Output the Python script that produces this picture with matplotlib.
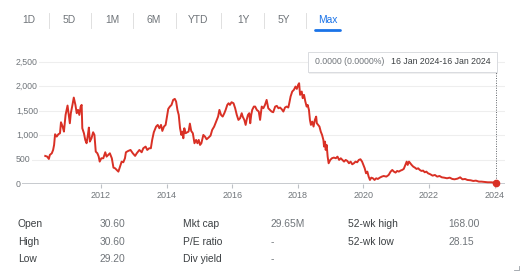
import matplotlib
matplotlib.use("Agg")
from matplotlib import pyplot as plt
from matplotlib.patches import FancyBboxPatch

plt.rcParams["font.family"] = ["Liberation Sans", "DejaVu Sans"]

# price history, decimal years
years = [
    2010.30, 2010.36, 2010.41, 2010.44, 2010.50, 2010.54, 2010.57, 2010.60, 2010.65, 2010.70,
    2010.75, 2010.78, 2010.83, 2010.87, 2010.92, 2010.98, 2011.02, 2011.05, 2011.08, 2011.13,
    2011.17, 2011.22, 2011.26, 2011.30, 2011.34, 2011.38, 2011.41, 2011.43, 2011.48, 2011.52,
    2011.56, 2011.60, 2011.63, 2011.66, 2011.71, 2011.76, 2011.80, 2011.84, 2011.89, 2011.93,
    2011.96, 2012.01, 2012.07, 2012.13, 2012.17, 2012.22, 2012.27, 2012.33, 2012.38, 2012.43,
    2012.48, 2012.53, 2012.58, 2012.63, 2012.68, 2012.73, 2012.76, 2012.83, 2012.90, 2012.97,
    2013.04, 2013.09, 2013.17, 2013.24, 2013.29, 2013.36, 2013.41, 2013.47, 2013.52, 2013.56,
    2013.61, 2013.68, 2013.73, 2013.78, 2013.83, 2013.87, 2013.92, 2013.97, 2014.01, 2014.05,
    2014.10, 2014.15, 2014.20, 2014.25, 2014.29, 2014.33, 2014.37, 2014.41, 2014.45, 2014.48,
    2014.51, 2014.54, 2014.58, 2014.63, 2014.67, 2014.71, 2014.75, 2014.80, 2014.85, 2014.90,
    2014.94, 2014.98, 2015.02, 2015.06, 2015.12, 2015.17, 2015.22, 2015.28, 2015.34, 2015.39,
    2015.45, 2015.51, 2015.57, 2015.61, 2015.66, 2015.71, 2015.76, 2015.80, 2015.85, 2015.89,
    2015.93, 2015.98, 2016.04, 2016.09, 2016.14, 2016.19, 2016.24, 2016.29, 2016.32, 2016.37,
    2016.41, 2016.44, 2016.48, 2016.52, 2016.55, 2016.58, 2016.61, 2016.66, 2016.70, 2016.75,
    2016.81, 2016.85, 2016.90, 2016.95, 2017.00, 2017.05, 2017.10, 2017.15, 2017.20, 2017.25,
    2017.31, 2017.36, 2017.41, 2017.46, 2017.51, 2017.56, 2017.61, 2017.66, 2017.71, 2017.74,
    2017.78, 2017.83, 2017.88, 2017.93, 2017.97, 2018.01, 2018.04, 2018.07, 2018.12, 2018.15,
    2018.19, 2018.23, 2018.27, 2018.30, 2018.34, 2018.37, 2018.40, 2018.44, 2018.48, 2018.52,
    2018.56, 2018.58, 2018.62, 2018.66, 2018.70, 2018.74, 2018.78, 2018.80, 2018.83, 2018.85,
    2018.88, 2018.91, 2018.94, 2018.99, 2019.04, 2019.10, 2019.16, 2019.21, 2019.26, 2019.31,
    2019.36, 2019.41, 2019.46, 2019.51, 2019.56, 2019.61, 2019.66, 2019.71, 2019.76, 2019.81,
    2019.86, 2019.91, 2019.96, 2020.00, 2020.04, 2020.08, 2020.12, 2020.16, 2020.20, 2020.24,
    2020.29, 2020.34, 2020.39, 2020.44, 2020.50, 2020.56, 2020.62, 2020.70, 2020.77, 2020.83,
    2020.88, 2020.93, 2020.98, 2021.03, 2021.08, 2021.13, 2021.18, 2021.23, 2021.28, 2021.32,
    2021.35, 2021.39, 2021.43, 2021.47, 2021.52, 2021.57, 2021.62, 2021.67, 2021.72, 2021.77,
    2021.82, 2021.87, 2021.92, 2021.97, 2022.04, 2022.11, 2022.18, 2022.25, 2022.32, 2022.39,
    2022.46, 2022.55, 2022.63, 2022.71, 2022.78, 2022.87, 2022.95, 2023.02, 2023.10, 2023.17,
    2023.27, 2023.35, 2023.43, 2023.52, 2023.60, 2023.69, 2023.79, 2023.90, 2023.97, 2024.04,
]
prices = [
    580, 566, 518, 600, 634, 702, 805, 1023, 975, 1023,
    1043, 1268, 1180, 1077, 1418, 1610, 1405, 1248, 1453, 1623,
    1773, 1623, 1453, 1521, 1418, 1589, 1623, 1146, 1043, 907,
    839, 1009, 1159, 873, 941, 1064, 1009, 668, 634, 566,
    464, 532, 532, 655, 566, 600, 634, 532, 341, 327,
    293, 259, 361, 464, 450, 532, 655, 682, 702, 634,
    580, 634, 702, 655, 737, 771, 702, 737, 737, 907,
    1064, 1180, 1214, 1146, 1214, 1091, 1180, 1214, 1384, 1541,
    1589, 1623, 1725, 1746, 1691, 1521, 1418, 1146, 1009, 1077,
    941, 1146, 1043, 1064, 1077, 1241, 1091, 1043, 839, 907,
    839, 907, 805, 839, 1009, 975, 920, 955, 996, 1112,
    1180, 1282, 1384, 1521, 1418, 1384, 1453, 1521, 1623, 1657,
    1623, 1678, 1657, 1555, 1418, 1316, 1350, 1453, 1384, 1316,
    1214, 1316, 1418, 1453, 1248, 1418, 1521, 1589, 1589, 1521,
    1487, 1316, 1589, 1555, 1623, 1725, 1555, 1521, 1487, 1473,
    1589, 1603, 1555, 1569, 1535, 1487, 1569, 1589, 1569, 1657,
    1794, 1896, 1930, 1998, 1950, 2032, 2066, 1828, 1896, 1760,
    1828, 1691, 1589, 1623, 1521, 1316, 1214, 1282, 1180, 1316,
    1384, 1248, 1214, 1180, 1077, 1009, 907, 771, 873, 702,
    805, 566, 430, 498, 532, 546, 532, 566, 498, 532,
    498, 464, 498, 477, 430, 464, 409, 430, 464, 450,
    498, 512, 464, 396, 327, 225, 259, 157, 89, 136,
    123, 89, 123, 109, 136, 157, 170, 157, 191, 259,
    293, 259, 239, 273, 259, 280, 293, 314, 396, 464,
    396, 464, 430, 396, 361, 341, 314, 327, 293, 273,
    280, 246, 259, 225, 205, 177, 191, 157, 170, 143,
    136, 123, 136, 109, 102, 116, 143, 102, 109, 89,
    82, 68, 75, 55, 55, 48, 41, 41, 36, 30.6,
]

y_ticks = [0, 500, 1000, 1500, 2000, 2500]
x_ticks = [2012, 2014, 2016, 2018, 2020, 2022, 2024]
ranges = ["1D", "5D", "1M", "6M", "YTD", "1Y", "5Y", "Max"]
tooltip_change = "0.0000 (0.0000%)"
tooltip_dates = "16 Jan 2024-16 Jan 2024"

stats_labels = [["Open", "High", "Low"], ["Mkt cap", "P/E ratio", "Div yield"], ["52-wk high", "52-wk low"]]
stats_values = [["30.60", "30.60", "29.20"], ["29.65M", "-", "-"], ["168.00", "28.15"]]

RED = "#d93025"
GREY = "#70757a"
DARK = "#3c4043"
BLUE = "#1a73e8"

W, H = 520, 272
fig = plt.figure(figsize=(W / 100, H / 100), dpi=100)


def fx(px):
    return px / W


def fy(py):
    return 1 - py / H


# chart area in pixel terms: left 16, right 505, 0-line at 184.3, 2500-line at 62
x0, x1 = 16, 505
y_zero, y_top = 184.3, 52
px_per_year = 32.8
px_per_unit = (184.3 - 62) / 2500
ax = fig.add_axes([fx(x0), fy(y_zero), fx(x1 - x0), (y_zero - y_top) / H])
ax.set_xlim(2012 - (101 - x0) / px_per_year, 2012 + (x1 - 101) / px_per_year)
ax.set_ylim(0, (y_zero - y_top) / px_per_unit)

for v in y_ticks[1:]:
    ax.axhline(v, color="#eeeeee", lw=0.8, zorder=0)
ax.axhline(0, color="#bdc1c6", lw=1.2, zorder=1)
for v in y_ticks:
    ax.text(0.0, v, f"{v:,}", transform=ax.get_yaxis_transform(), ha="left", va="center",
            fontsize=6.3, color=GREY, zorder=2,
            bbox=dict(facecolor="white", edgecolor="none", pad=0.6))

for s in ax.spines.values():
    s.set_visible(False)
ax.set_yticks([])
ax.set_xticks(x_ticks)
ax.set_xticklabels([str(t) for t in x_ticks])
ax.tick_params(axis="x", length=3, width=0.8, color="#bdc1c6", labelsize=6.5,
               labelcolor=GREY, pad=2)

ax.plot(years, prices, color=RED, lw=1.4, zorder=3, solid_joinstyle="round")
ax.plot(years[-1], prices[-1], "o", ms=4.5, color=RED, zorder=4, clip_on=False)
ax.plot([years[-1], years[-1]], [prices[-1], ax.get_ylim()[1]], color="#5f6368",
        lw=0.7, ls=(0, (1, 1.5)), zorder=2)

# hover tooltip with a soft drop shadow
for off, alpha in [(1.6, 0.06), (0.8, 0.08)]:
    shadow = FancyBboxPatch((fx(308 + off / 2), fy(72 + off)), fx(497 - 308), (72 - 52) / H,
                            boxstyle="square,pad=0", transform=fig.transFigure,
                            facecolor="black", edgecolor="none", alpha=alpha, zorder=4)
    fig.patches.append(shadow)
tip = FancyBboxPatch((fx(308), fy(72)), fx(497 - 308), (72 - 52) / H,
                     boxstyle="square,pad=0", transform=fig.transFigure,
                     facecolor="white", edgecolor="#dadce0", lw=0.7, zorder=5)
fig.patches.append(tip)
fig.text(fx(315), fy(62), tooltip_change, fontsize=6.3, color=GREY, va="center", zorder=6)
fig.text(fx(391), fy(62), tooltip_dates, fontsize=6.3, color=DARK, va="center", zorder=6)

# range selector
tab_x = [29, 69, 112, 154, 198, 243, 284, 328]
for i, (name, cx) in enumerate(zip(ranges, tab_x)):
    col = BLUE if name == "Max" else GREY
    fig.text(fx(cx), fy(20), name, fontsize=7.4, color=col, ha="center", va="center")
    if i < len(ranges) - 1:
        sx = (cx + tab_x[i + 1]) / 2
        fig.add_artist(plt.Line2D([fx(sx), fx(sx)], [fy(13), fy(28)], color="#e0e0e0",
                                  lw=0.7, transform=fig.transFigure))
fig.add_artist(plt.Line2D([fx(315), fx(340)], [fy(29.5), fy(29.5)], color=BLUE, lw=2,
                          solid_capstyle="round", transform=fig.transFigure))

# key stats table
label_x = [17.7, 183.3, 348.3]
value_x = [99.3, 270.7, 448.3]
row_y = [224, 241.7, 259.3]
for col in range(3):
    for row, (lab, val) in enumerate(zip(stats_labels[col], stats_values[col])):
        fig.text(fx(label_x[col]), fy(row_y[row]), lab, fontsize=7.4, color=DARK, va="center")
        fig.text(fx(value_x[col]), fy(row_y[row]), val, fontsize=7.4, color=GREY, va="center")

# resize corner mark
fig.add_artist(plt.Line2D([fx(514), fx(519), fx(519)], [fy(270), fy(270), fy(266)],
                          color="#9aa0a6", lw=0.6, transform=fig.transFigure))

fig.savefig("out.png", dpi=100, facecolor="white")
